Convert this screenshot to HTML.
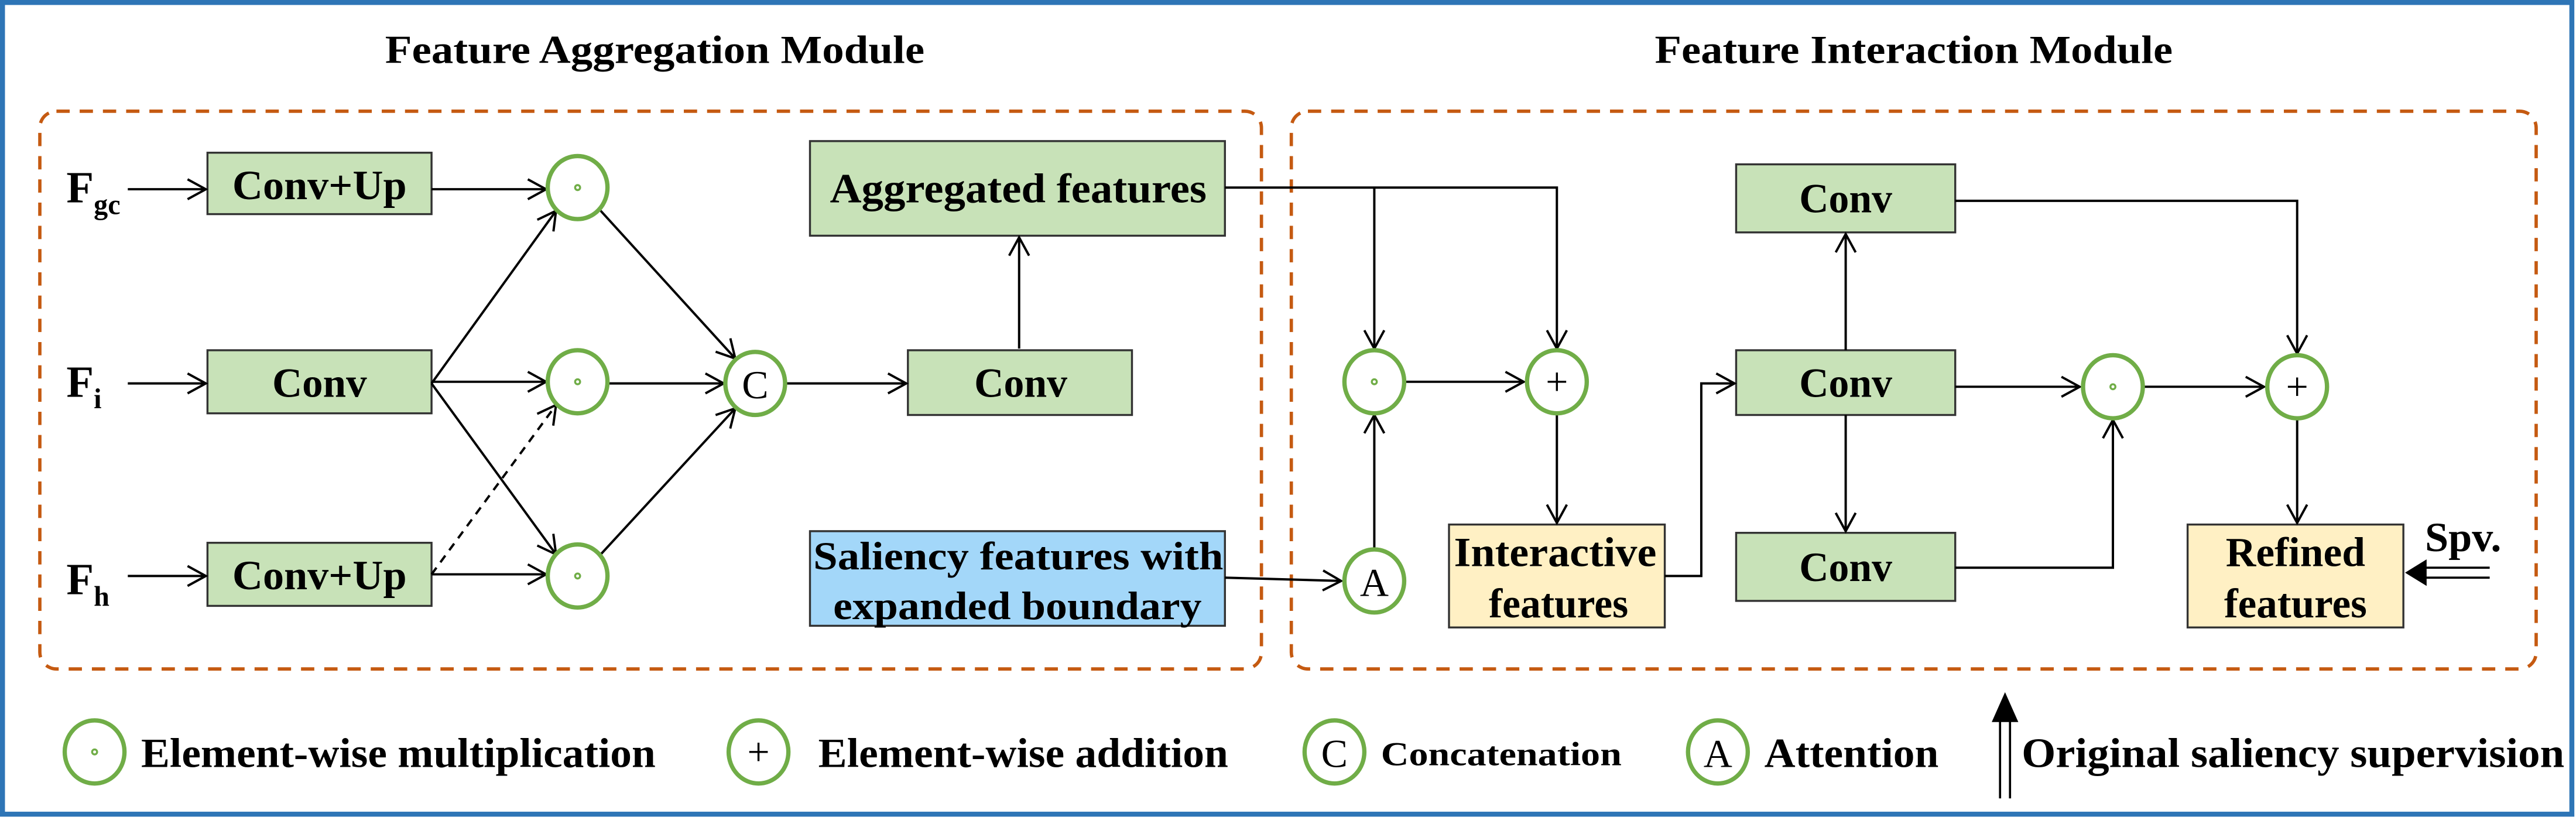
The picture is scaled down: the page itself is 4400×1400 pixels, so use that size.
<!DOCTYPE html>
<html><head><meta charset="utf-8"><style>
html,body{margin:0;padding:0;background:#fff;}
svg{display:block;}
text{font-family:"Liberation Serif",serif;font-weight:bold;fill:#000;}
</style></head><body>
<svg width="4400" height="1400" viewBox="0 0 1552 494" preserveAspectRatio="none" xmlns="http://www.w3.org/2000/svg">
<defs>
<marker id="a" markerWidth="14" markerHeight="14" refX="12" refY="7" orient="auto" markerUnits="userSpaceOnUse">
<polyline points="1,1 12,7 1,13" fill="none" stroke="#000" stroke-width="1.4"/>
</marker>
</defs>
<rect x="1.5" y="1.5" width="1548" height="489" fill="#fff" stroke="#2e75b6" stroke-width="3"/>
<g font-size="24" lengthAdjust="spacingAndGlyphs">
<text x="232" y="38" textLength="325" lengthAdjust="spacingAndGlyphs">Feature Aggregation Module</text>
<text x="997" y="38" textLength="312" lengthAdjust="spacingAndGlyphs">Feature Interaction Module</text>
</g>
<rect x="24" y="67" width="736" height="336" rx="10" fill="none" stroke="#c55a11" stroke-width="2" stroke-dasharray="8,6"/>
<rect x="778" y="67" width="750" height="336" rx="10" fill="none" stroke="#c55a11" stroke-width="2" stroke-dasharray="8,6"/>

<g stroke="#333" stroke-width="1.2">
<rect x="125" y="92" width="135" height="37" fill="#c8e2b8"/>
<rect x="125" y="211" width="135" height="38" fill="#c8e2b8"/>
<rect x="125" y="327" width="135" height="38" fill="#c8e2b8"/>
<rect x="547" y="211" width="135" height="39" fill="#c8e2b8"/>
<rect x="488" y="85" width="250" height="57" fill="#c8e2b8"/>
<rect x="488" y="320" width="250" height="57" fill="#a3d7f9"/>
<rect x="873" y="316" width="130" height="62" fill="#fff0c4"/>
<rect x="1046" y="99" width="132" height="41" fill="#c8e2b8"/>
<rect x="1046" y="211" width="132" height="39" fill="#c8e2b8"/>
<rect x="1046" y="321" width="132" height="41" fill="#c8e2b8"/>
<rect x="1318" y="316" width="130" height="62" fill="#fff0c4"/>
</g>
<g font-size="25">
<text x="140" y="120" textLength="105" lengthAdjust="spacingAndGlyphs">Conv+Up</text>
<text x="164" y="239" textLength="57" lengthAdjust="spacingAndGlyphs">Conv</text>
<text x="140" y="355" textLength="105" lengthAdjust="spacingAndGlyphs">Conv+Up</text>
<text x="587" y="239" textLength="56" lengthAdjust="spacingAndGlyphs">Conv</text>
<text x="500" y="122" textLength="227" lengthAdjust="spacingAndGlyphs">Aggregated features</text>
<text x="490" y="343" font-size="24" textLength="247" lengthAdjust="spacingAndGlyphs">Saliency features with</text>
<text x="502" y="373" font-size="24" textLength="222" lengthAdjust="spacingAndGlyphs">expanded boundary</text>
<text x="876" y="341" textLength="122" lengthAdjust="spacingAndGlyphs">Interactive</text>
<text x="897" y="372" textLength="84" lengthAdjust="spacingAndGlyphs">features</text>
<text x="1084" y="128" textLength="56" lengthAdjust="spacingAndGlyphs">Conv</text>
<text x="1084" y="239" textLength="56" lengthAdjust="spacingAndGlyphs">Conv</text>
<text x="1084" y="350" textLength="56" lengthAdjust="spacingAndGlyphs">Conv</text>
<text x="1341" y="341" textLength="84" lengthAdjust="spacingAndGlyphs">Refined</text>
<text x="1340" y="372" textLength="86" lengthAdjust="spacingAndGlyphs">features</text>
<text x="1461" y="332" textLength="46" lengthAdjust="spacingAndGlyphs">Spv.</text>
</g>
<text x="40" y="122" font-size="27">F<tspan font-size="17" dy="7">gc</tspan></text>
<text x="40" y="239" font-size="27">F<tspan font-size="17" dy="7">i</tspan></text>
<text x="40" y="358" font-size="27">F<tspan font-size="17" dy="7">h</tspan></text>

<g stroke="#000" stroke-width="1.4" fill="none" marker-end="url(#a)">
<line x1="77" y1="114" x2="124" y2="114"/>
<line x1="77" y1="231" x2="124" y2="231"/>
<line x1="77" y1="347" x2="124" y2="347"/>
<line x1="260" y1="114" x2="329" y2="114"/>
<line x1="260" y1="230" x2="329" y2="230"/>
<line x1="260" y1="346" x2="329" y2="346"/>
<line x1="260" y1="231" x2="335" y2="127"/>
<line x1="260" y1="231" x2="335" y2="334"/>
<line x1="260" y1="346" x2="335" y2="244" stroke-dasharray="5,4"/>
<line x1="361" y1="126" x2="443" y2="216"/>
<line x1="367" y1="231" x2="436" y2="231"/>
<line x1="361" y1="335" x2="443" y2="246"/>
<line x1="474" y1="231" x2="546" y2="231"/>
<line x1="614" y1="210" x2="614" y2="143"/>
<polyline points="738,113 938,113 938,210"/>
<line x1="828" y1="113" x2="828" y2="210"/>
<line x1="847" y1="230" x2="918" y2="230"/>
<line x1="938" y1="249" x2="938" y2="315"/>
<line x1="738" y1="348" x2="808" y2="350"/>
<line x1="828" y1="331" x2="828" y2="250"/>
<polyline points="1003,347 1025,347 1025,231 1045,231"/>
<line x1="1112" y1="211" x2="1112" y2="141"/>
<line x1="1112" y1="250" x2="1112" y2="320"/>
<line x1="1178" y1="233" x2="1253" y2="233"/>
<polyline points="1178,342 1273,342 1273,253"/>
<polyline points="1178,121 1384,121 1384,213"/>
<line x1="1292" y1="233" x2="1364" y2="233"/>
<line x1="1384" y1="252" x2="1384" y2="315"/>
</g>
<g stroke="#000" stroke-width="1.3">
<line x1="1458" y1="342" x2="1500" y2="342"/>
<line x1="1458" y1="348" x2="1500" y2="348"/>
<line x1="1205" y1="432" x2="1205" y2="481"/>
<line x1="1211" y1="432" x2="1211" y2="481"/>
</g>
<polygon points="1449,345 1462,337 1462,353" fill="#000"/>
<polygon points="1208,417 1200,435 1216,435" fill="#000"/>

<g stroke="#70ad47" stroke-width="2.6" fill="#fff">
<ellipse cx="348" cy="113" rx="18" ry="19"/>
<ellipse cx="348" cy="230" rx="18" ry="19"/>
<ellipse cx="348" cy="347" rx="18" ry="19"/>
<ellipse cx="455" cy="231" rx="18" ry="19"/>
<ellipse cx="828" cy="230" rx="18" ry="19"/>
<ellipse cx="938" cy="230" rx="18" ry="19"/>
<ellipse cx="828" cy="350" rx="18" ry="19"/>
<ellipse cx="1273" cy="233" rx="18" ry="19"/>
<ellipse cx="1384" cy="233" rx="18" ry="19"/>
<ellipse cx="57" cy="453" rx="18" ry="19"/>
<ellipse cx="457" cy="453" rx="18" ry="19"/>
<ellipse cx="804" cy="453" rx="18" ry="19"/>
<ellipse cx="1035" cy="453" rx="18" ry="19"/>
</g>
<g fill="none" stroke="#70ad47" stroke-width="1.2">
<circle cx="348" cy="113" r="1.5"/><circle cx="348" cy="230" r="1.5"/><circle cx="348" cy="347" r="1.5"/>
<circle cx="828" cy="230" r="1.5"/><circle cx="1273" cy="233" r="1.5"/><circle cx="57" cy="453" r="1.5"/>
</g>
<g text-anchor="middle" font-size="24">
<text x="455" y="240" style="font-weight:normal">C</text>
<text x="938" y="238" style="font-weight:normal">+</text>
<text x="828" y="359" style="font-weight:normal">A</text>
<text x="1384" y="241" style="font-weight:normal">+</text>
<text x="457" y="461" style="font-weight:normal">+</text>
<text x="804" y="462" style="font-weight:normal">C</text>
<text x="1035" y="462" style="font-weight:normal">A</text>
</g>
<g font-size="25">
<text x="85" y="462" textLength="310" lengthAdjust="spacingAndGlyphs">Element-wise multiplication</text>
<text x="493" y="462" textLength="247" lengthAdjust="spacingAndGlyphs">Element-wise addition</text>
<text x="832" y="461" font-size="20" textLength="145" lengthAdjust="spacingAndGlyphs">Concatenation</text>
<text x="1063" y="462" textLength="105" lengthAdjust="spacingAndGlyphs">Attention</text>
<text x="1218" y="462" textLength="327" lengthAdjust="spacingAndGlyphs">Original saliency supervision</text>
</g>
</svg>
</body></html>
